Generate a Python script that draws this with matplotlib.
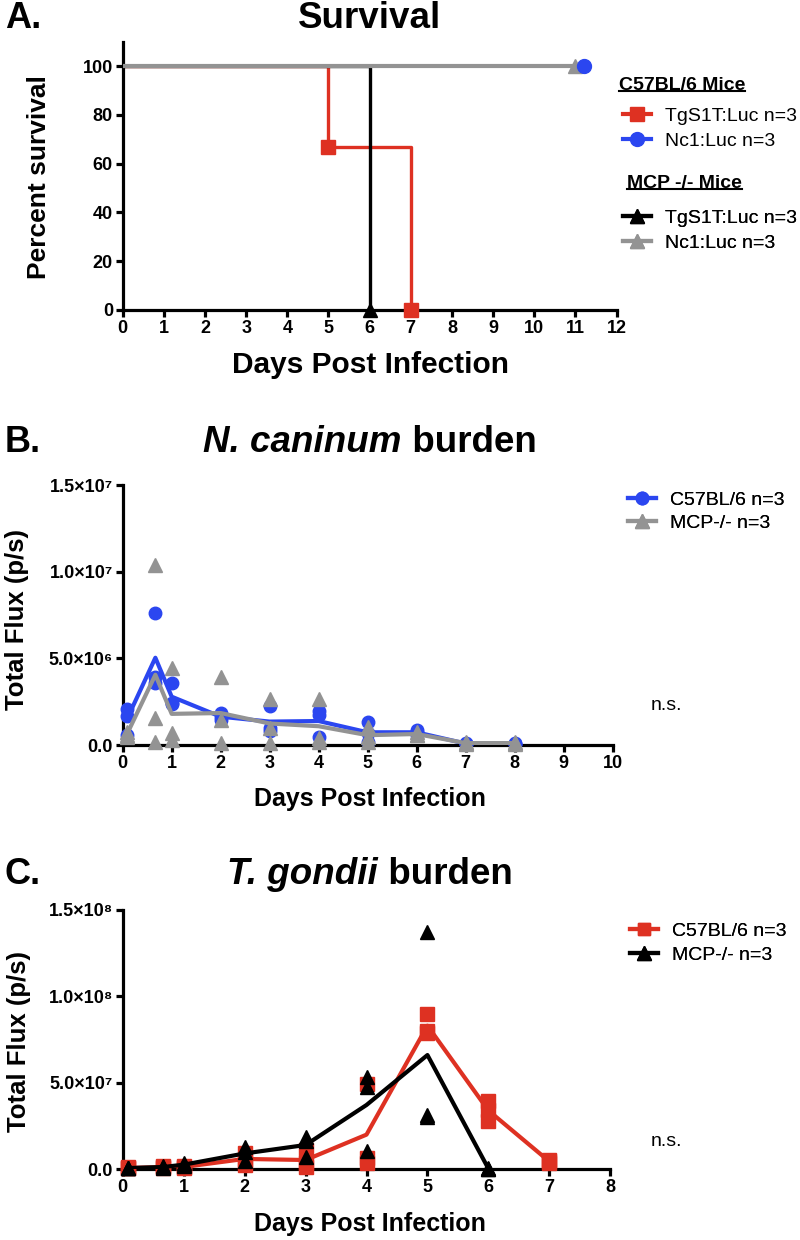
import matplotlib
matplotlib.use('Agg')
import matplotlib.pyplot as plt
from matplotlib.lines import Line2D
from matplotlib.transforms import IdentityTransform
import numpy as np

FONT = ['Liberation Sans', 'DejaVu Sans']
plt.rcParams['font.family'] = FONT

RED = '#DE3122'
BLUE = '#2B46F0'
GREY = '#939393'
BLACK = '#000000'

# ---------------- Panel A: survival (Kaplan-Meier steps) ----------------
surv_days = list(range(0, 13))
surv_ticks = [0, 20, 40, 60, 80, 100]
tg_c57_t = [0, 5, 7]
tg_c57_s = [100, 66.67, 0]
nc_c57_t = [0, 11.2]
nc_c57_s = [100, 100]
tg_mcp_t = [0, 6]
tg_mcp_s = [100, 0]
nc_mcp_t = [0, 11]
nc_mcp_s = [100, 100]

# ---------------- Panel B: N. caninum burden ----------------
nc_x = [0.083, 0.667, 1, 2, 3, 4, 5, 6, 7, 8]
nc_c57 = [
    [2.10e6, 1.70e6, 0.60e6],
    [7.60e6, 3.90e6, 3.60e6],
    [3.56e6, 2.45e6, 2.35e6],
    [1.85e6, 1.60e6, 1.45e6],
    [2.25e6, 1.00e6, 0.80e6],
    [1.95e6, 1.75e6, 0.45e6],
    [1.30e6, 0.70e6, 0.20e6],
    [0.85e6, 0.75e6, 0.60e6],
    [0.12e6, 0.08e6, 0.05e6],
    [0.12e6, 0.08e6, 0.05e6],
]
nc_mcp = [
    [0.75e6, 0.60e6, 0.45e6],
    [10.4e6, 1.55e6, 0.20e6],
    [4.42e6, 0.67e6, 0.30e6],
    [3.95e6, 1.45e6, 0.13e6],
    [2.63e6, 0.96e6, 0.13e6],
    [2.65e6, 0.40e6, 0.20e6],
    [1.05e6, 0.45e6, 0.20e6],
    [0.75e6, 0.60e6, 0.55e6],
    [0.15e6, 0.10e6, 0.08e6],
    [0.15e6, 0.10e6, 0.08e6],
]
nc_yticks = [0, 5e6, 1e7, 1.5e7]
nc_yticklabels = ['0.0', '5.0×10⁶', '1.0×10⁷', '1.5×10⁷']

# ---------------- Panel C: T. gondii burden ----------------
tg_x_c57 = [0.083, 0.667, 1, 2, 3, 4, 5, 6, 7]
tg_c57 = [
    [1.0e6, 0.5e6, 0.3e6],
    [1.5e6, 1.0e6, 0.8e6],
    [2.0e6, 1.0e6, 0.5e6],
    [9.5e6, 5.5e6, 2.5e6],
    [11.0e6, 3.6e6, 1.0e6],
    [4.95e7, 6.5e6, 3.7e6],
    [9.0e7, 8.0e7, 7.9e7],
    [3.96e7, 3.4e7, 2.8e7],
    [5.0e6, 4.5e6, 3.5e6],
]
tg_x_mcp = [0.083, 0.667, 1, 2, 3, 4, 5, 6]
tg_mcp = [
    [0.8e6, 0.5e6, 0.3e6],
    [1.5e6, 1.2e6, 0.8e6],
    [3.5e6, 2.5e6, 1.5e6],
    [12.5e6, 10.0e6, 4.5e6],
    [18.5e6, 16.4e6, 6.8e6],
    [5.32e7, 4.74e7, 1.06e7],
    [13.7e7, 3.1e7, 3.0e7],
    [0.3e6, 0.2e6, 0.1e6],
]
tg_yticks = [0, 5e7, 1e8, 1.5e8]
tg_yticklabels = ['0.0', '5.0×10⁷', '1.0×10⁸', '1.5×10⁸']

W, H = 800, 1240
fig = plt.figure(figsize=(W / 100, H / 100), dpi=100)


def fx(px):
    return px / W


def fy(py):
    return 1 - py / H


def style_axes(ax, tick_size=12.5):
    for s in ['top', 'right']:
        ax.spines[s].set_visible(False)
    for s in ['left', 'bottom']:
        ax.spines[s].set_linewidth(2.3)
    ax.tick_params(direction='out', length=5, width=2.3, labelsize=tick_size, pad=2)
    for lab in ax.get_xticklabels() + ax.get_yticklabels():
        lab.set_fontweight('bold')


# ---------------- Axes A ----------------
axA = fig.add_axes([fx(122.7), fy(310), fx(616.5) - fx(122.7), (310 - 41.6) / H])
lw = 2.4
axA.step(tg_c57_t, tg_c57_s, where='post', color=RED, lw=lw, zorder=2)
axA.step(tg_mcp_t, tg_mcp_s, where='post', color=BLACK, lw=lw, zorder=3)
axA.step(nc_c57_t, nc_c57_s, where='post', color=BLUE, lw=lw - 0.4, zorder=3)
axA.step(nc_mcp_t, nc_mcp_s, where='post', color=GREY, lw=lw + 0.6, zorder=4)
axA.plot(tg_c57_t[1:], tg_c57_s[1:], 's', color=RED, ms=10, zorder=5, clip_on=False)
axA.plot(tg_mcp_t[1:], tg_mcp_s[1:], '^', color=BLACK, ms=10, zorder=5, clip_on=False)
axA.plot(nc_mcp_t[1:], nc_mcp_s[1:], '^', color=GREY, ms=10, zorder=5, clip_on=False)
axA.plot(nc_c57_t[1:], nc_c57_s[1:], 'o', color=BLUE, ms=10, zorder=6, clip_on=False)
axA.set_xlim(0, 12)
axA.set_ylim(0, 110)
axA.set_xticks(surv_days)
axA.set_yticks(surv_ticks)
style_axes(axA, 13)

# ---------------- Axes B ----------------
axB = fig.add_axes([fx(122.7), fy(745), fx(612.5) - fx(122.7), (745 - 485) / H])
nc_c57_arr = np.array(nc_c57)
nc_mcp_arr = np.array(nc_mcp)
axB.plot(nc_x, nc_c57_arr.mean(axis=1), color=BLUE, lw=3, zorder=2)
for k in range(nc_c57_arr.shape[1]):
    axB.plot(nc_x, nc_c57_arr[:, k], 'o', color=BLUE, ms=9, zorder=3, clip_on=False)
axB.plot(nc_x, nc_mcp_arr.mean(axis=1), color=GREY, lw=3, zorder=4)
for k in range(nc_mcp_arr.shape[1]):
    axB.plot(nc_x, nc_mcp_arr[:, k], '^', color=GREY, ms=9.5, zorder=5, clip_on=False)
axB.set_xlim(0, 10)
axB.set_ylim(0, 1.5e7)
axB.set_xticks(range(0, 11))
axB.set_yticks(nc_yticks)
axB.set_yticklabels(nc_yticklabels)
style_axes(axB, 13)

# ---------------- Axes C ----------------
axC = fig.add_axes([fx(122.7), fy(1169), fx(610.3) - fx(122.7), (1169 - 910) / H])
tg_c57_arr = np.array(tg_c57)
tg_mcp_arr = np.array(tg_mcp)
axC.plot(tg_x_c57, tg_c57_arr.mean(axis=1), color=RED, lw=3, zorder=2)
for k in range(tg_c57_arr.shape[1]):
    axC.plot(tg_x_c57, tg_c57_arr[:, k], 's', color=RED, ms=9.5, zorder=3, clip_on=False)
axC.plot(tg_x_mcp, tg_mcp_arr.mean(axis=1), color=BLACK, lw=3, zorder=4)
for k in range(tg_mcp_arr.shape[1]):
    axC.plot(tg_x_mcp, tg_mcp_arr[:, k], '^', color=BLACK, ms=10, zorder=5, clip_on=False)
axC.set_xlim(0, 8)
axC.set_ylim(0, 1.5e8)
axC.set_xticks(range(0, 9))
axC.set_yticks(tg_yticks)
axC.set_yticklabels(tg_yticklabels)
style_axes(axC, 13)

# ---------------- Labels ----------------
for letter, ypx in [('A.', 18), ('B.', 443), ('C.', 875)]:
    fig.text(fx(5), fy(ypx), letter, fontsize=26, fontweight='bold', ha='left', va='center')

fig.text(fx(370), fy(365), 'Days Post Infection', fontsize=21.5, fontweight='bold', ha='center', va='center')
fig.text(fx(370), fy(799), 'Days Post Infection', fontsize=18, fontweight='bold', ha='center', va='center')
fig.text(fx(370), fy(1224), 'Days Post Infection', fontsize=18, fontweight='bold', ha='center', va='center')

fig.text(fx(39.5), fy(177), 'Percent survival', fontsize=19, fontweight='bold', rotation=90, ha='center', va='center')
fig.text(fx(17), fy(619), 'Total Flux (p/s)', fontsize=18.5, fontweight='bold', rotation=90, ha='center', va='center')
fig.text(fx(19), fy(1041), 'Total Flux (p/s)', fontsize=18.5, fontweight='bold', rotation=90, ha='center', va='center')

fig.text(fx(651), fy(706), 'n.s.', fontsize=14, ha='left', va='center')
fig.text(fx(651), fy(1141), 'n.s.', fontsize=14, ha='left', va='center')

# Titles (mixed italic / normal)
title_A = fig.text(fx(370), fy(18), 'Survival', fontsize=26.5, fontweight='bold', ha='center', va='center')
tB1 = fig.text(0, fy(443), 'N. caninum', fontsize=26.5, fontweight='bold', fontstyle='italic', ha='left', va='center')
tB2 = fig.text(0, fy(443), ' burden', fontsize=26.5, fontweight='bold', ha='left', va='center')
tC1 = fig.text(0, fy(875), 'T. gondii', fontsize=26.5, fontweight='bold', fontstyle='italic', ha='left', va='center')
tC2 = fig.text(0, fy(875), ' burden', fontsize=26.5, fontweight='bold', ha='left', va='center')

# Legends
def add_legend(ax, handles, labels, x_px, ytop_px, spacing):
    leg = ax.legend(handles, labels, loc='upper left',
                    bbox_to_anchor=(fx(x_px), fy(ytop_px)), bbox_transform=fig.transFigure,
                    frameon=False, borderpad=0, borderaxespad=0, handlelength=1.45,
                    handletextpad=0.7, labelspacing=spacing, prop=dict(size=14), numpoints=1)
    ax.add_artist(leg)
    return leg


hA1 = [Line2D([], [], color=RED, marker='s', lw=3, ms=10),
       Line2D([], [], color=BLUE, marker='o', lw=3, ms=10)]
hA2 = [Line2D([], [], color=BLACK, marker='^', lw=3, ms=10),
       Line2D([], [], color=GREY, marker='^', lw=3, ms=10)]
add_legend(axA, hA1, ['TgS1T:Luc n=3', 'Nc1:Luc n=3'], 623, 107, 0.4)
add_legend(axA, hA2, ['TgS1T:Luc n=3', 'Nc1:Luc n=3'], 623, 209, 0.4)
head1 = fig.text(fx(619), fy(85), 'C57BL/6 Mice', fontsize=14, fontweight='bold', ha='left', va='center')
head2 = fig.text(fx(627), fy(183), 'MCP -/- Mice', fontsize=14, fontweight='bold', ha='left', va='center')

hB = [Line2D([], [], color=BLUE, marker='o', lw=3, ms=9),
      Line2D([], [], color=GREY, marker='^', lw=3, ms=10)]
add_legend(axB, hB, ['C57BL/6 n=3', 'MCP-/- n=3'], 628, 491, 0.3)
hC = [Line2D([], [], color=RED, marker='s', lw=3, ms=9),
      Line2D([], [], color=BLACK, marker='^', lw=3, ms=10)]
add_legend(axC, hC, ['C57BL/6 n=3', 'MCP-/- n=3'], 630, 922, 0.34)

# position mixed titles and underline headers
fig.canvas.draw()
r = fig.canvas.get_renderer()
for t1, t2 in [(tB1, tB2), (tC1, tC2)]:
    w1 = t1.get_window_extent(r).width
    w2 = t2.get_window_extent(r).width
    x0 = 370 - (w1 + w2) / 2
    t1.set_x(fx(x0))
    t2.set_x(fx(x0 + w1))
for h in [head1, head2]:
    bb = h.get_window_extent(r)
    yline = bb.y0 + 3
    fig.add_artist(Line2D([bb.x0, bb.x1], [yline, yline], transform=IdentityTransform(),
                          color='black', lw=1.5))

fig.savefig('out.png', dpi=100)
